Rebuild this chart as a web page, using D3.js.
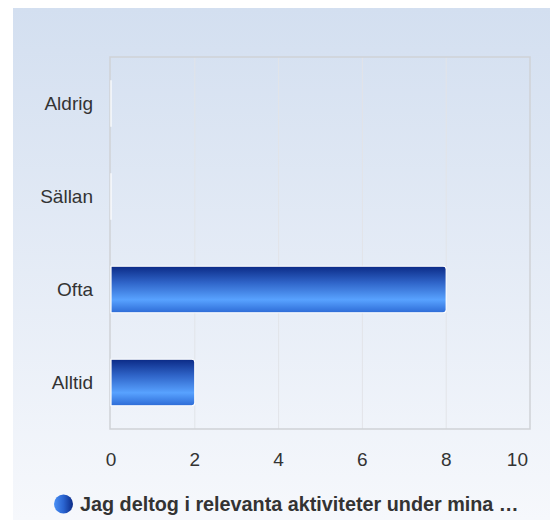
<!DOCTYPE html>
<html><head><meta charset="utf-8">
<script src="https://cdn.jsdelivr.net/npm/d3@7/dist/d3.min.js"></script>
<style>body{margin:0;background:#fff;}svg{display:block;font-family:"Liberation Sans",Arial,sans-serif;}</style>
</head><body>
<script>
const categories = ["Aldrig", "Sällan", "Ofta", "Alltid"];
const values = [0, 0, 8, 2];
const xTicks = [0, 2, 4, 6, 8, 10];
const seriesName = "Jag deltog i relevanta aktiviteter under mina …";

const W = 550, H = 520;
const svg = d3.select("body").append("svg").attr("width", W).attr("height", H);
const defs = svg.append("defs");

const bg = defs.append("linearGradient").attr("id", "bg").attr("x1", 0).attr("y1", 0).attr("x2", 0).attr("y2", 1);
bg.append("stop").attr("offset", 0).attr("stop-color", "#d3dff0");
bg.append("stop").attr("offset", 1).attr("stop-color", "#f6f8fc");

const bar = defs.append("linearGradient").attr("id", "bar").attr("x1", 0).attr("y1", 0).attr("x2", 0).attr("y2", 1);
bar.append("stop").attr("offset", 0).attr("stop-color", "#0b2a86");
bar.append("stop").attr("offset", 0.35).attr("stop-color", "#2f64c8");
bar.append("stop").attr("offset", 0.72).attr("stop-color", "#58a2ff");
bar.append("stop").attr("offset", 1).attr("stop-color", "#2d6bd6");

const leg = defs.append("linearGradient").attr("id", "leg").attr("x1", 0).attr("y1", 0).attr("x2", 1).attr("y2", 0);
leg.append("stop").attr("offset", 0).attr("stop-color", "#4a90f5");
leg.append("stop").attr("offset", 0.5).attr("stop-color", "#2a64d0");
leg.append("stop").attr("offset", 1).attr("stop-color", "#0b2a86");

svg.append("rect").attr("x", 13).attr("y", 8).attr("width", W - 13).attr("height", H - 8).attr("fill", "url(#bg)");

const m = {left: 111, right: 530, top: 57, bottom: 429};
const x = d3.scaleLinear().domain([0, 10]).range([m.left, m.right]);
const y = d3.scaleBand().domain(categories).range([m.top, m.bottom]).paddingInner(0.5).paddingOuter(0.25);

// grid
svg.append("g").selectAll("line").data(xTicks.slice(1, -1)).join("line")
  .attr("x1", d => x(d)).attr("x2", d => x(d)).attr("y1", m.top).attr("y2", m.bottom)
  .attr("stroke", "#e2e4e8").attr("stroke-width", 1);

svg.append("rect").attr("x", m.left - 1).attr("y", m.top).attr("width", m.right - m.left + 1).attr("height", m.bottom - m.top)
  .attr("fill", "none").attr("stroke", "#cfd2d6").attr("stroke-width", 1.5);

// bars
svg.append("g").selectAll("path").data(categories).join("path")
  .attr("d", (c, i) => {
    const x0 = x(0), x1 = x(values[i]), y0 = y(c), h = y.bandwidth();
    const w = x1 - x0, r = Math.min(3, w);
    if (w <= 0) return `M${x0},${y0}V${y0 + h}`;
    return `M${x0},${y0}H${x1 - r}Q${x1},${y0} ${x1},${y0 + r}V${y0 + h - r}Q${x1},${y0 + h} ${x1 - r},${y0 + h}H${x0}Z`;
  })
  .attr("fill", "url(#bar)").attr("stroke", "#ffffff").attr("stroke-width", 1.2);

// y labels
svg.append("g").selectAll("text").data(categories).join("text")
  .attr("x", 93).attr("y", c => y(c) + y.bandwidth() / 2).attr("dy", "0.35em")
  .attr("text-anchor", "end").attr("font-size", 19).attr("fill", "#333").text(c => c);

// x labels
svg.append("g").selectAll("text").data(xTicks).join("text")
  .attr("x", (d, i) => i === xTicks.length - 1 ? x(d) - 2 : x(d))
  .attr("y", 459).attr("dy", "0.35em")
  .attr("text-anchor", (d, i) => i === xTicks.length - 1 ? "end" : "middle")
  .attr("font-size", 19).attr("fill", "#333").text(d => d);

// legend
svg.append("circle").attr("cx", 63.5).attr("cy", 504).attr("r", 9.5).attr("fill", "url(#leg)");
svg.append("text").attr("x", 80).attr("y", 504).attr("dy", "0.35em")
  .attr("font-size", 19.8).attr("font-weight", "bold").attr("fill", "#333").text(seriesName);
</script>
</body></html>
